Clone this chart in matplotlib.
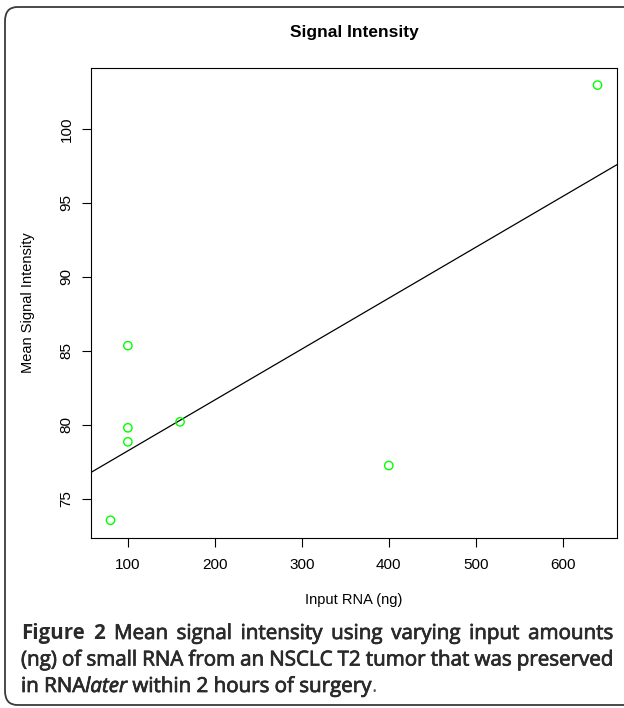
import matplotlib
matplotlib.use("Agg")
import matplotlib.pyplot as plt
import matplotlib.patheffects as pe
from matplotlib.patches import FancyBboxPatch
import numpy as np

plt.rcParams.update({
    "font.family": ["Liberation Sans", "DejaVu Sans"],
    "font.size": 10.5,
})

# data
input_rna = [80, 100, 100, 100, 160, 400, 640]          # ng
signal = [73.55, 78.85, 79.8, 85.35, 80.2, 77.25, 102.95]
x_ticks = [100, 200, 300, 400, 500, 600]
y_ticks = [75, 80, 85, 90, 95, 100]

W, H = 624, 708
fig = plt.figure(figsize=(W / 100, H / 100), dpi=100)


def fx(px):
    return px / W


def fy(py):
    return 1 - py / H


# rounded frame around the whole panel (right side runs off the image)
frame = FancyBboxPatch((fx(5), fy(705)), fx(640) - fx(5), fy(7) - fy(705),
                       boxstyle="round,pad=0,rounding_size=0.02",
                       transform=fig.transFigure, fill=False,
                       edgecolor="#3a3a3a", linewidth=1.3, clip_on=False)
fig.patches.append(frame)

ax = fig.add_axes([fx(91), fy(537.7), fx(617) - fx(91), fy(67.7) - fy(537.7)])

ax.scatter(input_rna, signal, s=36, facecolors="none", edgecolors="#00ff00",
           linewidths=1.0, zorder=3)

slope, intercept = np.polyfit(input_rna, signal, 1)
ax.axline((0, intercept), slope=slope, color="black", linewidth=0.9)

# R-style 4% padding
xr = max(input_rna) - min(input_rna)
yr = max(signal) - min(signal)
ax.set_xlim(min(input_rna) - 0.04 * xr, max(input_rna) + 0.04 * xr)
ax.set_ylim(min(signal) - 0.04 * yr, max(signal) + 0.04 * yr)

ax.set_xticks(x_ticks)
ax.set_yticks(y_ticks)
ax.tick_params(direction="out", length=6.5, width=0.8, labelsize=11)
ax.tick_params(axis="x", pad=8)
ax.tick_params(axis="y", pad=6)
plt.setp(ax.get_yticklabels(), rotation=90, va="center")
for sp in ax.spines.values():
    sp.set_linewidth(0.8)

fig.text(fx(354), fy(32), "Signal Intensity", ha="center", va="center",
         fontsize=12.5, fontweight="bold")
fig.text(fx(354), fy(600), "Input RNA (ng)", ha="center", va="center",
         fontsize=10.5)
fig.text(fx(28), fy(302.7), "Mean Signal Intensity", ha="center",
         va="center", rotation=90, fontsize=10.5)

# caption, justified like the journal layout
cap_color = "#2a2a2a"
cap_font = ["Open Sans", "DejaVu Sans"]
cap_size = 14.8
left_px, right_px = 21, 613
baselines = [639, 665.5, 692]
semi = [pe.withStroke(linewidth=0.55, foreground=cap_color)]

line1 = [("Figure", "bold"), ("2", "bold"), ("Mean", "semi"),
         ("signal", "semi"), ("intensity", "semi"), ("using", "semi"),
         ("varying", "semi"), ("input", "semi"), ("amounts", "semi")]
line2 = [(w, "semi") for w in
         "(ng) of small RNA from an NSCLC T2 tumor that was preserved".split()]

renderer = fig.canvas.get_renderer()


def make(word, kind, y, style="normal"):
    t = fig.text(0, fy(y), word, ha="left", va="baseline",
                 fontsize=cap_size, fontstyle=style,
                 fontweight="bold" if kind == "bold" else "normal",
                 family=cap_font,
                 color=cap_color if kind != "plain" else "#555555")
    if kind == "semi":
        t.set_path_effects(semi)
    return t


def width_px(t):
    return t.get_window_extent(renderer).width


for words, y in [(line1, baselines[0]), (line2, baselines[1])]:
    texts = [make(w, k, y) for w, k in words]
    widths = [width_px(t) for t in texts]
    gap = (right_px - left_px - sum(widths)) / (len(texts) - 1)
    x = left_px
    for t, w in zip(texts, widths):
        t.set_x(fx(x))
        x += w + gap

# last line: natural spacing
probe_a = make("n n", "semi", 0)
probe_b = make("nn", "semi", 0)
space = width_px(probe_a) - width_px(probe_b)
probe_a.remove()
probe_b.remove()

pieces = [("in", "semi", "normal", True), ("RNA", "semi", "normal", False),
          ("later", "semi", "italic", True), ("within", "semi", "normal", True),
          ("2", "semi", "normal", True), ("hours", "semi", "normal", True),
          ("of", "semi", "normal", True), ("surgery", "semi", "normal", False),
          (".", "plain", "normal", True)]
x = left_px
for word, kind, st, add_space in pieces:
    t = make(word, kind, baselines[2], st)
    t.set_x(fx(x))
    x += width_px(t) + (space if add_space else 0)

fig.savefig("out.png", dpi=100)
